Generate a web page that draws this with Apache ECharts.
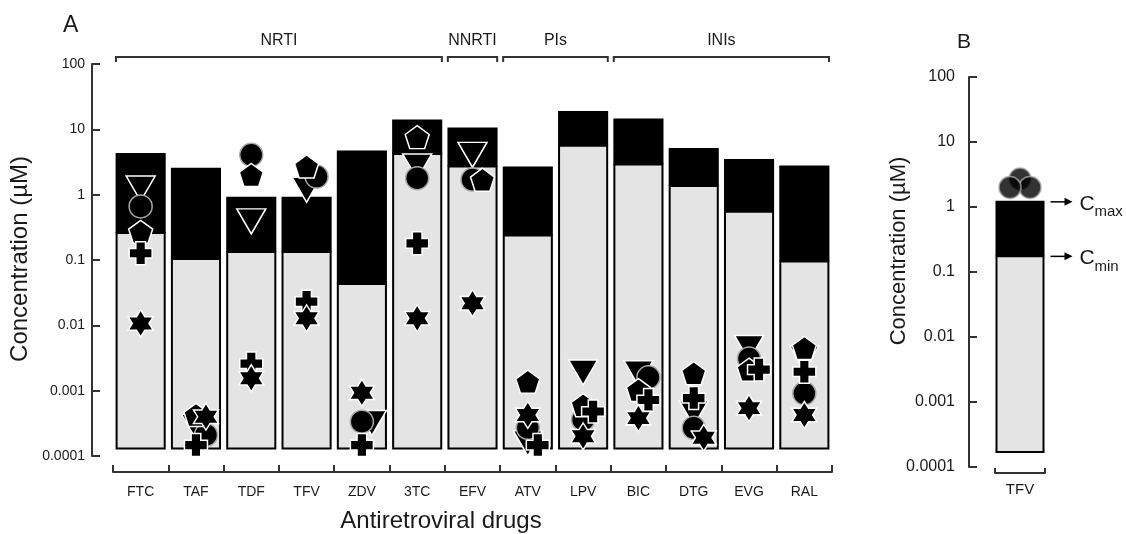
<!DOCTYPE html>
<html><head><meta charset="utf-8">
<script src="https://cdn.jsdelivr.net/npm/echarts@6/dist/echarts.min.js"></script>
<style>html,body{margin:0;padding:0;background:#fff}#c{width:1126px;height:534px}</style>
</head><body><div id="c"></div>
<script>
// ---------------- data ----------------
const categories = ['FTC','TAF','TDF','TFV','ZDV','3TC','EFV','ATV','LPV','BIC','DTG','EVG','RAL'];
const cmin = [0.26, 0.104, 0.133, 0.133, 0.043, 4.2, 2.7, 0.237, 5.6, 2.9, 1.36, 0.55, 0.095];
const cmax = [4.2, 2.5, 0.90, 0.90, 4.57, 13.6, 10.3, 2.6, 18.5, 14.1, 5.0, 3.4, 2.7];
const barBase = 0.00013;

const triangleVals = [1.24, 0.00028, 0.39, 1.19, 0.00032, 2.7, 4.07, 0.000156, 0.0019, 0.00185, 0.00045, 0.0045, 0.0031];
const circleVals   = [0.66, 0.00021, 4.07, 1.89, 0.000335, 1.79, 1.7, 0.00027, 0.00036, 0.0016, 0.00027, 0.0031, 0.00091];
const pentagonVals = [0.27, 0.000425, 2.0, 2.7, null, 7.6, 1.69, 0.00137, 0.0006, 0.00102, 0.00185, 0.0021, 0.0045];
const crossVals    = [0.127, 0.000147, 0.0026, 0.023, 0.000147, 0.18, null, 0.000147, 0.00048, 0.00072, 0.00077, 0.0021, 0.00195];
const starVals     = [0.0107, 0.0004, 0.00155, 0.0128, 0.00093, 0.0128, 0.0218, 0.000425, 0.0002, 0.00038, 0.00019, 0.00054, 0.000425];

const groupNames = ['NRTI','NNRTI','PIs','INIs'];
const groupFirst = [0, 6, 7, 9];
const groupLast  = [5, 6, 8, 12];

const yTickLabels = ['0.0001','0.001','0.01','0.1','1','10','100'];

const bCategories = ['TFV'];
const bCmin = [0.174];
const bCmax = [1.2];
const bBarBase = 0.00017;
const bCircleVals = [2.7, 2.0, 2.0];

const yTitle = 'Concentration (µM)';
const xTitle = 'Antiretroviral drugs';

// ---------------- layout / style ----------------
const FONT = '"Liberation Sans", Arial, sans-serif';
const TXT = '#1a1a1a';
const AX = '#333';
const GRID_A = {left:113, top:64, width:719, height:392};
const GRID_B = {left:995, top:77, width:50, height:390};
const BAR_FRAC_A = 0.87, BAR_FRAC_B = 0.94;
const SLOT_PX = 10;

const TRI_PATH = 'path://M0,0 L2,0 L1,1.732 Z';
const PENT_PATH = 'path://M0,-1 L0.951,-0.309 L0.588,0.809 L-0.588,0.809 L-0.951,-0.309 Z';
const CROSS_PATH = 'path://M-0.21,-0.5 L0.21,-0.5 L0.21,-0.21 L0.5,-0.21 L0.5,0.21 L0.21,0.21 L0.21,0.5 L-0.21,0.5 L-0.21,0.21 L-0.5,0.21 L-0.5,-0.21 L-0.21,-0.21 Z';
const STAR_PATH = 'path://M0,-1 L0.2887,-0.5 L0.866,-0.5 L0.577,0 L0.866,0.5 L0.2887,0.5 L0,1 L-0.2887,0.5 L-0.866,0.5 L-0.577,0 L-0.866,-0.5 L-0.2887,-0.5 Z';

const markerDefs = [
  {name:'triangle', vals:triangleVals, symbol:TRI_PATH, size:[29,25], stroke:'#fff'},
  {name:'circle',   vals:circleVals,   symbol:'circle', size:23, stroke:'#a8a8a8'},
  {name:'pentagon', vals:pentagonVals, symbol:PENT_PATH, size:[24,23], stroke:'#fff'},
  {name:'cross',    vals:crossVals,    symbol:CROSS_PATH, size:[23,23], stroke:'#fff'},
  {name:'star',     vals:starVals,     symbol:STAR_PATH, size:[25,27], stroke:'#fff'}
];

// simple dodge: markers closer than ~0.16 decades in the same category are shifted sideways
function assignSlots(items){
  const byCat = {};
  items.forEach(it => (byCat[it.cat] = byCat[it.cat] || []).push(it));
  Object.keys(byCat).forEach(c => {
    const list = byCat[c].slice().sort((a,b)=>b.v-a.v);
    const placed = [];
    list.forEach(it => {
      const lv = Math.log10(it.v);
      for (const s of [0,1,-1,2,-2]) {
        if (!placed.some(p => p.slot===s && Math.abs(p.lv-lv) < 0.16)) { it.slot = s; placed.push({slot:s, lv}); break; }
      }
    });
  });
}

const aItems = [];
markerDefs.forEach((d,k) => d.vals.forEach((v,i) => { if (v != null) aItems.push({k, cat:i, v}); }));
assignSlots(aItems);
const bItems = bCircleVals.map(v => ({k:0, cat:0, v}));
assignSlots(bItems);

function barRender(base, frac){
  return function(params, api){
    const i = api.value(0), lo = api.value(1), hi = api.value(2);
    const bw = api.size([1,1])[0] * frac;
    const pB = api.coord([i, base]), pL = api.coord([i, lo]), pH = api.coord([i, hi]);
    const x = pB[0] - bw/2;
    return {type:'group', children:[
      {type:'rect', shape:{x:x, y:pL[1], width:bw, height:pB[1]-pL[1]}, style:{fill:'#e4e4e4', stroke:'#000', lineWidth:2}},
      {type:'rect', shape:{x:x-1, y:pH[1]-1, width:bw+2, height:pL[1]-pH[1]+1}, style:{fill:'#000'}}
    ]};
  };
}

function yLabel(v){ return yTickLabels[Math.round(Math.log10(v)) + 4]; }

function yAxisCfg(gridIndex, offset, margin, labelSize){
  return {type:'log', gridIndex, logBase:10, min:0.0001, max:100, splitNumber:6, offset,
    axisLine:{show:true, onZero:false, lineStyle:{color:AX, width:2}},
    axisTick:{show:true, inside:true, length:8, lineStyle:{color:AX, width:2}},
    minorTick:{show:false}, splitLine:{show:false},
    axisLabel:{formatter:yLabel, margin, fontSize:labelSize, color:TXT, fontFamily:FONT}};
}

const series = [];
series.push({type:'custom', xAxisIndex:0, yAxisIndex:0, renderItem:barRender(barBase, BAR_FRAC_A),
  encode:{x:0, y:[1,2]}, data:categories.map((c,i)=>[i, cmin[i], cmax[i]]), z:2, silent:true});
markerDefs.forEach((d,k) => {
  series.push({type:'scatter', name:d.name, xAxisIndex:0, yAxisIndex:0, symbol:d.symbol, symbolSize:d.size,
    itemStyle:{color:'#000', borderColor:d.stroke, borderWidth:1.5, opacity:1}, z:3+k, silent:true,
    data: aItems.filter(it=>it.k===k).map(it=>({value:[it.cat, it.v], symbolOffset:[it.slot*SLOT_PX, 0]}))});
});
series.push({type:'custom', xAxisIndex:1, yAxisIndex:1, renderItem:barRender(bBarBase, BAR_FRAC_B),
  encode:{x:0, y:[1,2]}, data:bCategories.map((c,i)=>[i, bCmin[i], bCmax[i]]), z:2, silent:true});
series.push({type:'scatter', xAxisIndex:1, yAxisIndex:1, symbol:'circle', symbolSize:22,
  itemStyle:{color:'#000', borderColor:'#a8a8a8', borderWidth:1.5}, z:4, silent:true,
  data: bItems.map(it=>({value:[it.cat, it.v], symbolOffset:[it.slot*SLOT_PX, 0]}))});

const option = {
  animation:false,
  backgroundColor:'#fff',
  textStyle:{fontFamily:FONT},
  grid:[
    {left:GRID_A.left, top:GRID_A.top, width:GRID_A.width, height:GRID_A.height, containLabel:false},
    {left:GRID_B.left, top:GRID_B.top, width:GRID_B.width, height:GRID_B.height, containLabel:false}
  ],
  xAxis:[
    {type:'category', gridIndex:0, data:categories, offset:16,
      axisLine:{show:true, onZero:false, lineStyle:{color:AX, width:2}},
      axisTick:{show:true, inside:true, length:7, interval:0, lineStyle:{color:AX, width:2}},
      axisLabel:{interval:0, margin:13, fontSize:14, color:TXT, fontFamily:FONT},
      splitLine:{show:false}},
    {type:'category', gridIndex:1, data:bCategories, offset:6,
      axisLine:{show:true, onZero:false, lineStyle:{color:AX, width:2}},
      axisTick:{show:true, inside:true, length:5, lineStyle:{color:AX, width:2}},
      axisLabel:{margin:9, fontSize:15, color:TXT, fontFamily:FONT},
      splitLine:{show:false}}
  ],
  yAxis:[
    yAxisCfg(0, GRID_A.left-92, 7, 14),
    yAxisCfg(1, GRID_B.left-969, 14, 16)
  ],
  series
};

const chart = echarts.init(document.getElementById('c'), null, {renderer:'canvas'});
chart.setOption(option);

// ---------- annotations ----------
const g = [];
g.push({type:'text', left:63, top:14, style:{text:'A', fontSize:23, fill:TXT, fontFamily:FONT}});
g.push({type:'text', left:957, top:32, style:{text:'B', fontSize:21, fill:TXT, fontFamily:FONT}});
// axis titles
g.push({type:'text', x:20, y:259, rotation:Math.PI/2, style:{text:yTitle, fontSize:24, fill:TXT, fontFamily:FONT, align:'center', verticalAlign:'middle'}});
g.push({type:'text', x:899, y:251, rotation:Math.PI/2, style:{text:yTitle, fontSize:22, fill:TXT, fontFamily:FONT, align:'center', verticalAlign:'middle'}});
g.push({type:'text', x:441, y:521, style:{text:xTitle, fontSize:24, fill:TXT, fontFamily:FONT, align:'center', verticalAlign:'middle'}});
const bandA = GRID_A.width / categories.length;
groupNames.forEach((name, j) => {
  const p0 = chart.convertToPixel({gridIndex:0}, [groupFirst[j], 100]);
  const p1 = chart.convertToPixel({gridIndex:0}, [groupLast[j], 100]);
  const x0 = p0[0] - bandA/2 + 3, x1 = p1[0] + bandA/2 - 3, y = p0[1] - 7;
  g.push({type:'polyline', shape:{points:[[x0,y+5],[x0,y],[x1,y],[x1,y+5]]}, style:{stroke:AX, lineWidth:2, fill:null}});
  g.push({type:'text', x:(x0+x1)/2, y:y-16, style:{text:name, fontSize:16, fill:TXT, fontFamily:FONT, align:'center', verticalAlign:'middle'}});
});
const bandB = GRID_B.width / bCategories.length;
[[bCmax[0],'max'],[bCmin[0],'min']].forEach(([v, sub]) => {
  const p = chart.convertToPixel({gridIndex:1}, [0, v]);
  const xs = p[0] + bandB*BAR_FRAC_B/2 + 7, xe = xs + 22, y = p[1];
  g.push({type:'line', shape:{x1:xs, y1:y, x2:xe-6, y2:y}, style:{stroke:'#000', lineWidth:1.5}});
  g.push({type:'polygon', shape:{points:[[xe,y],[xe-8,y-4],[xe-8,y+4]]}, style:{fill:'#000'}});
  g.push({type:'text', x:xe+7, y:y+2, style:{text:'C', fontSize:21, fill:TXT, fontFamily:FONT, verticalAlign:'middle'}});
  g.push({type:'text', x:xe+22, y:y+10, style:{text:sub, fontSize:15, fill:TXT, fontFamily:FONT, verticalAlign:'middle'}});
});
chart.setOption({graphic:g});
</script>
</body></html>
